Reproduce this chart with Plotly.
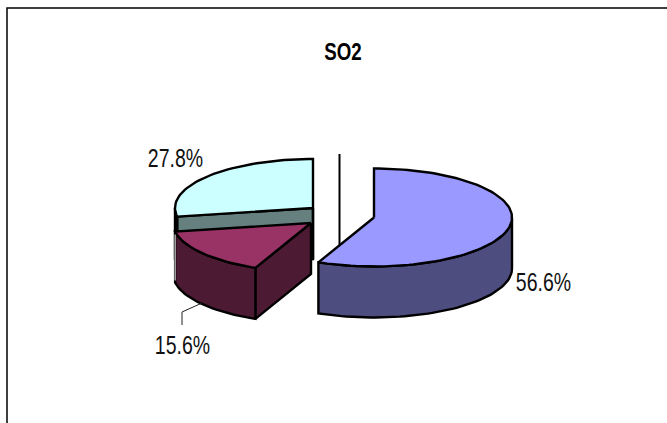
import numpy as np
import plotly.graph_objects as go

# Pie shares in percent, listed clockwise from twelve o'clock
categories = ["A", "B", "C"]
shares = [56.6, 15.6, 27.8]
top_colors = ["#9999FF", "#993366", "#CCFFFF"]
side_colors = ["#4D4D80", "#4D1A33", "#668080"]

# Per-slice centre of the tilted ellipse, after explosion (pixel space)
centers = [(374, 217.5), (311, 223), (313, 208)]
RX, RY, DEPTH = 138, 49, 51
WIDTH, HEIGHT = 667, 423
OUTLINE = dict(color="black", width=2.4)
FONT = "Liberation Sans, Arial, sans-serif"

# Painter's order: rear slice first, front slices on top
draw_order = [2, 1, 0]

fig = go.Figure()


def rim(cx, cy, a0, a1):
    """Points of the elliptical rim between two clockwise angles (degrees)."""
    n = max(2, int(abs(a1 - a0) / 2) + 1)
    t = np.radians(np.linspace(a0, a1, n))
    return cx + RX * np.sin(t), cy - RY * np.cos(t)


def poly(xs, ys, color):
    fig.add_trace(go.Scatter(
        x=list(xs) + [xs[0]], y=list(ys) + [ys[0]], mode="lines", fill="toself",
        fillcolor=color, line=OUTLINE, hoverinfo="skip", showlegend=False,
    ))


# Thin upright rule behind the exploded slices
fig.add_trace(go.Scatter(x=[339.5, 339.5], y=[154, 246], mode="lines",
                         line=dict(color="black", width=2),
                         hoverinfo="skip", showlegend=False))

edges = np.concatenate([[0], np.cumsum(shares)]) * 3.6

for i in draw_order:
    cx, cy = centers[i]
    a0, a1 = edges[i], edges[i + 1]

    # The wall at a slice's starting angle faces the viewer on the left half
    if np.sin(np.radians(a0)) < -1e-9:
        ex, ey = rim(cx, cy, a0, a0 + 0.001)
        poly([cx, ex[0], ex[0], cx],
             [cy, ey[0], ey[0] + DEPTH, cy + DEPTH], side_colors[i])

    # Outer wall: only the part of the rim on the near half of the ellipse
    s0, s1 = max(a0, 90), min(a1, 270)
    if s1 > s0:
        ox, oy = rim(cx, cy, s0, s1)
        poly(np.concatenate([ox, ox[::-1]]),
             np.concatenate([oy, oy[::-1] + DEPTH]), side_colors[i])

    # Top face
    tx, ty = rim(cx, cy, a0, a1)
    poly(np.concatenate([[cx], tx]), np.concatenate([[cy], ty]), top_colors[i])

# Back edge of the rear slice, still visible beside the middle slice
rear_x, rear_y = centers[2]
fig.add_trace(go.Scatter(x=[rear_x, rear_x], y=[rear_y, rear_y + DEPTH], mode="lines",
                         line=OUTLINE, hoverinfo="skip", showlegend=False))

# Highlight on the front corner of the middle slice
corner_x, corner_y = rim(*centers[1], edges[2], edges[2] + 0.001)
fig.add_trace(go.Scatter(x=[corner_x[0], corner_x[0]],
                         y=[corner_y[0] + 3, corner_y[0] + DEPTH - 2], mode="lines",
                         line=dict(color="#D8D8D8", width=1.2),
                         hoverinfo="skip", showlegend=False))

# Percentage labels and the leader of the small slice
label_positions = [(543, 282), (182, 345), (175, 158)]
for share, (lx, ly) in zip(shares, label_positions):
    fig.add_annotation(x=lx, y=ly, text=f"{share:.1f}%", showarrow=False,
                       font=dict(family=FONT, size=25, color="#111111"))

fig.add_trace(go.Scatter(x=[202, 182, 182], y=[303, 312, 325], mode="lines",
                         line=dict(color="#222222", width=1),
                         hoverinfo="skip", showlegend=False))

fig.add_annotation(x=343, y=51, text="<b>SO2</b>", showarrow=False,
                   font=dict(family=FONT, size=24, color="black"))

# Chart frame: top and left sides only reach the window edges
fig.add_trace(go.Scatter(x=[WIDTH, 7, 7], y=[8, 8, HEIGHT], mode="lines",
                         line=dict(color="black", width=1.5),
                         hoverinfo="skip", showlegend=False))

fig.update_xaxes(range=[0, WIDTH], visible=False)
fig.update_yaxes(range=[HEIGHT, 0], visible=False)
fig.update_layout(width=WIDTH, height=HEIGHT, margin=dict(l=0, r=0, t=0, b=0),
                  paper_bgcolor="white", plot_bgcolor="white", showlegend=False)

# Condense the annotation text horizontally about each label's own centre
CONDENSE = """
document.querySelectorAll('.annotation-text').forEach(function (t) {
  var b = t.getBBox(), c = b.x + b.width / 2;
  t.setAttribute('transform', 'translate(' + c + ',0) scale(0.78,1) translate(' + (-c) + ',0)');
});
"""

fig.write_html("out.html", post_script=CONDENSE)
